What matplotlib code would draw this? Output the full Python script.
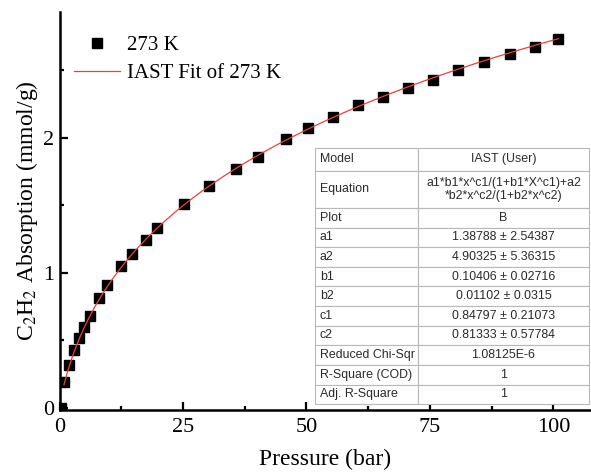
import numpy as np
import matplotlib.pyplot as plt

plt.rcParams['font.family'] = ['Liberation Serif', 'DejaVu Serif']
plt.rcParams['mathtext.fontset'] = 'stix'

# measured isotherm, 273 K
pressure = [0.3, 0.9, 1.9, 2.9, 3.9, 5.0, 6.2, 8.0, 9.6, 12.4, 14.7, 17.5, 19.7,
            25.2, 30.3, 35.7, 40.2, 45.8, 50.3, 55.3, 60.4, 65.5, 70.5, 75.6,
            80.6, 85.9, 91.2, 96.2, 101.0]
uptake = [0.0, 0.19, 0.32, 0.43, 0.52, 0.60, 0.68, 0.81, 0.91, 1.05, 1.14, 1.24,
          1.33, 1.51, 1.64, 1.77, 1.86, 1.99, 2.07, 2.15, 2.24, 2.30, 2.37, 2.43,
          2.50, 2.56, 2.62, 2.67, 2.73]

# fit parameters from the report table
a1, a2 = 1.38788, 4.90325
b1, b2 = 0.10406, 0.01102
c1, c2 = 0.84797, 0.81333

table_rows = [
    ["Model", "IAST (User)"],
    ["Equation", "a1*b1*x^c1/(1+b1*X^c1)+a2\n*b2*x^c2/(1+b2*x^c2)"],
    ["Plot", "B"],
    ["a1", "1.38788 ± 2.54387"],
    ["a2", "4.90325 ± 5.36315"],
    ["b1", "0.10406 ± 0.02716"],
    ["b2", "0.01102 ± 0.0315"],
    ["c1", "0.84797 ± 0.21073"],
    ["c2", "0.81333 ± 0.57784"],
    ["Reduced Chi-Sqr", "1.08125E-6"],
    ["R-Square (COD)", "1"],
    ["Adj. R-Square", "1"],
]

def iast(x):
    t1 = b1 * x ** c1
    t2 = b2 * x ** c2
    return a1 * t1 / (1 + t1) + a2 * t2 / (1 + t2)

fig = plt.figure(figsize=(5.91, 4.73), dpi=100)
ax = fig.add_axes([0.1007, 0.133, 0.8993, 0.8416])

xfit = np.linspace(pressure[1], pressure[-1], 400)
ax.plot(pressure, uptake, 's', color='black', markersize=7.5, label='273 K', zorder=3)
ax.plot(xfit, iast(xfit), '-', color='#e8413f', linewidth=0.9, label='IAST Fit of 273 K', zorder=4)

ax.set_xlim(0, 107.6)
ax.set_ylim(-0.017, 2.93)
ax.set_xticks([0, 25, 50, 75, 100])
ax.set_xticks([12.5, 37.5, 62.5, 87.5], minor=True)
ax.set_yticks([0, 1, 2])
ax.set_yticks([0.5, 1.5, 2.5], minor=True)
ax.tick_params(which='both', direction='in', width=1.6, labelsize=16, pad=4)
ax.tick_params(which='major', length=6)
ax.tick_params(which='minor', length=3)
ax.tick_params(axis='x', pad=6)
for s in ['top', 'right']:
    ax.spines[s].set_visible(False)
for s in ['left', 'bottom']:
    ax.spines[s].set_linewidth(1.8)

ax.set_xlabel('Pressure (bar)', fontsize=17, labelpad=8)
ax.set_ylabel('C$_2$H$_2$ Absorption (mmol/g)', fontsize=17, labelpad=2)

ax.legend(loc='upper left', bbox_to_anchor=(0.0, 0.977), frameon=False, fontsize=15,
          handlelength=2.2, handletextpad=0.35, labelspacing=0.38, borderpad=0.2)

tbl = ax.table(cellText=table_rows, bbox=[0.481, 0.015, 0.515, 0.643],
               colWidths=[0.376, 0.624], cellLoc='center', zorder=5)
tbl.auto_set_font_size(False)
heights = [1.15, 1.9] + [1.0] * 10
for (r, c), cell in tbl.get_celld().items():
    cell.set_height(heights[r])
    cell.set_edgecolor('#b8b8b8')
    cell.set_linewidth(0.8)
    cell.set_facecolor('white')
    txt = cell.get_text()
    txt.set_fontsize(8.9)
    txt.set_color('#2a2a2a')
    txt.set_fontfamily('Liberation Sans')
    if c == 0:
        cell._loc = 'left'
        cell.PAD = 0.045
        txt.set_horizontalalignment('left')
    else:
        txt.set_linespacing(1.05)

fig.savefig('out.png', dpi=100)
